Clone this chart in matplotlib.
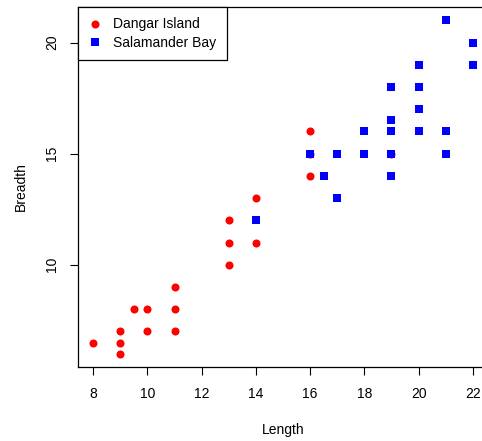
import matplotlib
matplotlib.use("Agg")
import matplotlib.pyplot as plt

plt.rcParams['font.family'] = ['Liberation Sans', 'DejaVu Sans']

dangar_length = [8, 9, 9, 9, 9.5, 10, 10, 11, 11, 11, 13, 13, 13, 14, 14, 16, 16, 16, 19]
dangar_breadth = [6.5, 7, 6.5, 6, 8, 8, 7, 9, 8, 7, 10, 12, 11, 13, 11, 16, 15, 14, 15]

salamander_length = [21, 22, 22, 20, 19, 20, 20, 19, 18, 19, 20, 21, 16, 17, 18, 19, 21, 16.5, 19, 17, 14]
salamander_breadth = [21, 20, 19, 19, 18, 18, 17, 16.5, 16, 16, 16, 16, 15, 15, 15, 15, 15, 14, 14, 13, 12]

xticks = [8, 10, 12, 14, 16, 18, 20, 22]
yticks = [10, 15, 20]

W, H = 482, 441
fig = plt.figure(figsize=(W / 100, H / 100), dpi=100)
left, right, top, bottom = 78, 488, 7, 367
ax = fig.add_axes([left / W, 1 - bottom / H, (right - left) / W, (bottom - top) / H])

ax.plot(dangar_length, dangar_breadth, 'o', color='#ff0000', markersize=5.8,
        markeredgewidth=0, linestyle='none', label='Dangar Island')
ax.plot(salamander_length, salamander_breadth, 's', color='#0000ff', markersize=5.2,
        markeredgewidth=0, linestyle='none', label='Salamander Bay')

fs = 10
ax.set_xlim(7.44, 22.56)
ax.set_ylim(5.4, 21.6)
ax.set_xticks(xticks)
ax.set_yticks(yticks)
ax.tick_params(axis='both', direction='out', length=5.8, width=0.8, labelsize=fs, color='black')
ax.tick_params(axis='x', pad=8.5)
ax.tick_params(axis='y', pad=8)
for lab in ax.get_yticklabels():
    lab.set_rotation(90)
    lab.set_va('center')
for s in ax.spines.values():
    s.set_linewidth(0.9)
    s.set_color('black')

ax.set_xlabel('Length', fontsize=fs, labelpad=16)
ax.set_ylabel('Breadth', fontsize=fs, labelpad=12)

leg = ax.legend(loc='upper left', borderaxespad=0, fancybox=False, edgecolor='black',
                framealpha=1, fontsize=fs, handletextpad=0.9, handlelength=0.9,
                borderpad=0.75, labelspacing=0.3)
leg.get_frame().set_linewidth(0.9)

fig.savefig('out.png', dpi=100)
